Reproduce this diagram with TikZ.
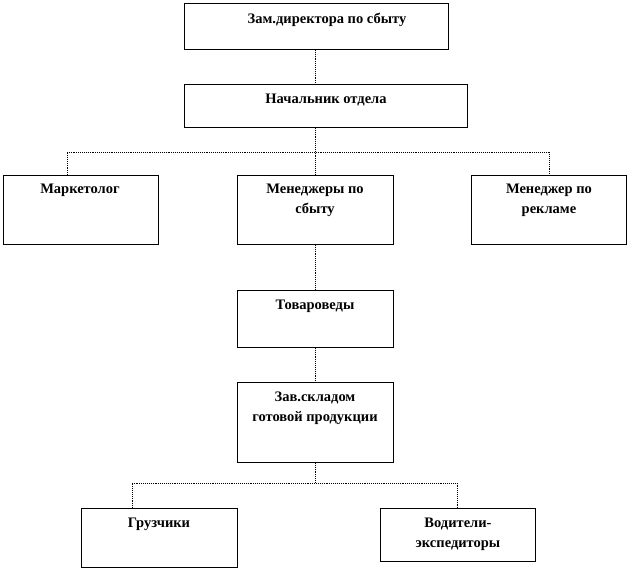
\documentclass[tikz,border=0pt]{standalone}
\usepackage{fontspec}
\setmainfont{Liberation Serif}
\begin{document}
\begin{tikzpicture}[x=1pt,y=-1pt,
  box/.style={draw=black, line width=0.9pt, rectangle, inner sep=0pt, anchor=north west},
  txt/.style={anchor=north, inner sep=0pt, align=center, font=\fontsize{14.5}{20}\selectfont\bfseries},
  conn/.style={densely dotted, line width=0.9pt}]
\useasboundingbox (0,0) rectangle (630,570);
% boxes
\node[box, minimum width=264pt, minimum height=46pt] (b1) at (184,3) {};
\node[box, minimum width=283pt, minimum height=43pt] (b2) at (184,84) {};
\node[box, minimum width=155pt, minimum height=69pt] (b3) at (3,175) {};
\node[box, minimum width=156pt, minimum height=69pt] (b4) at (237,175) {};
\node[box, minimum width=155pt, minimum height=69pt] (b5) at (471,175) {};
\node[box, minimum width=156pt, minimum height=57pt] (b6) at (237,290) {};
\node[box, minimum width=156pt, minimum height=80pt] (b7) at (237,382) {};
\node[box, minimum width=156pt, minimum height=59pt] (b8) at (81,508) {};
\node[box, minimum width=155pt, minimum height=53pt] (b9) at (380,508) {};
% texts
\node[txt] (t1) at (327,13) {Зам.директора по сбыту};
\node[txt] (t2) at (326,94) {Начальник отдела};
\node[txt] (t3) at (80,184) {Маркетолог};
\node[txt] (t4) at (315,184) {Менеджеры по\\сбыту};
\node[txt] (t5) at (549,184) {Менеджер по\\рекламе};
\node[txt] (t6) at (315,300) {Товароведы};
\node[txt] (t7) at (315,392) {Зав.складом\\готовой продукции};
\node[txt] (t8) at (159,518) {Грузчики};
\node[txt] (t9) at (458,518) {Водители-\\экспедиторы};
% connector coordinates
\coordinate (h1) at (315,152);
\coordinate (h2) at (315,483);
% connectors
\draw[conn] (b1.south -| h1) -- (b2.north -| h1);
\draw[conn] (b2.south -| h1) -- (b4.north -| h1);
\draw[conn] (b3.north -| 67,0) |- (h1) -| (b5.north -| 549,0);
\draw[conn] (b4.south -| h1) -- (b6.north -| h1);
\draw[conn] (b6.south -| h1) -- (b7.north -| h1);
\draw[conn] (b7.south -| h1) -- (h2);
\draw[conn] (b8.north -| 132,0) |- (h2) -| (b9.north -| 457,0);
\end{tikzpicture}
\end{document}
